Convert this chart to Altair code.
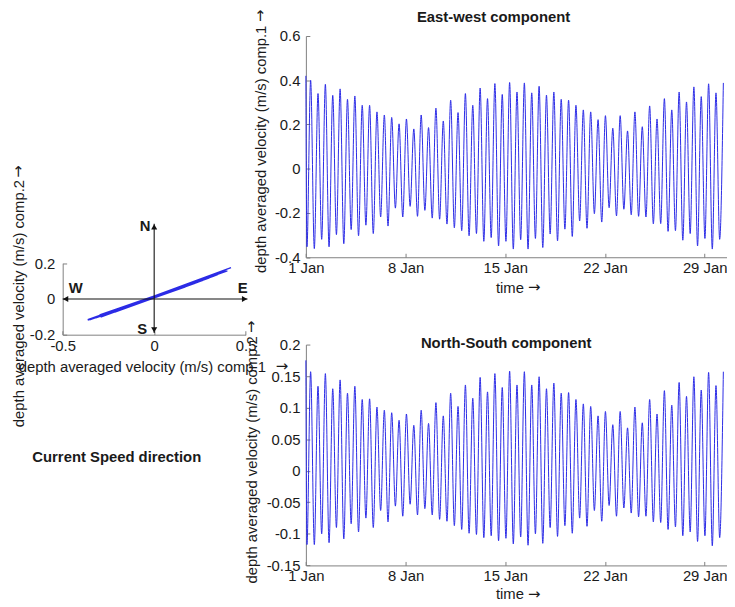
import altair as alt
import pandas as pd

# ---------------- data ----------------
TIDE_PERIOD_H = 12.42      # sampling of extremes (semi-diurnal)
FIRST_PEAK_H = 8.0         # hours after 1 Jan 00:00
ew_start = 0.42
ns_start = 0.175

ew_peaks = [0.40, 0.34, 0.382, 0.332, 0.361, 0.314, 0.329, 0.287, 0.287, 0.257,
            0.243, 0.232, 0.203, 0.225, 0.18, 0.243, 0.186, 0.274, 0.216, 0.31,
            0.254, 0.34, 0.287, 0.365, 0.317, 0.385, 0.336, 0.39, 0.347, 0.388,
            0.343, 0.373, 0.333, 0.347, 0.314, 0.31, 0.287, 0.266, 0.257, 0.222,
            0.24, 0.183, 0.24, 0.171, 0.257, 0.19, 0.284, 0.225, 0.317, 0.266,
            0.347, 0.302, 0.37, 0.326, 0.384, 0.343, 0.388]
ew_troughs = [-0.353, -0.361, -0.319, -0.353, -0.298, -0.339, -0.275, -0.303, -0.255, -0.293,
              -0.218, -0.259, -0.178, -0.218, -0.17, -0.215, -0.188, -0.223, -0.228, -0.25,
              -0.267, -0.28, -0.303, -0.293, -0.328, -0.311, -0.349, -0.328, -0.363, -0.321,
              -0.363, -0.315, -0.356, -0.295, -0.326, -0.273, -0.306, -0.236, -0.269, -0.203,
              -0.241, -0.176, -0.213, -0.183, -0.208, -0.215, -0.218, -0.249, -0.248, -0.283,
              -0.28, -0.323, -0.293, -0.349, -0.315, -0.363, -0.319]
ns_peaks = [0.157, 0.134, 0.154, 0.13, 0.144, 0.123, 0.134, 0.113, 0.114, 0.101,
            0.096, 0.092, 0.08, 0.09, 0.072, 0.096, 0.075, 0.108, 0.087, 0.123,
            0.102, 0.136, 0.115, 0.148, 0.125, 0.154, 0.132, 0.158, 0.136, 0.157,
            0.136, 0.149, 0.13, 0.139, 0.123, 0.124, 0.113, 0.106, 0.102, 0.087,
            0.094, 0.073, 0.094, 0.068, 0.101, 0.076, 0.113, 0.09, 0.127, 0.104,
            0.14, 0.118, 0.149, 0.128, 0.156, 0.135, 0.157]
ns_troughs = [-0.117, -0.117, -0.1, -0.114, -0.09, -0.108, -0.084, -0.097, -0.075, -0.09,
              -0.063, -0.081, -0.056, -0.072, -0.053, -0.07, -0.06, -0.07, -0.077, -0.08,
              -0.087, -0.093, -0.099, -0.101, -0.106, -0.103, -0.111, -0.107, -0.116, -0.105,
              -0.118, -0.1, -0.115, -0.09, -0.104, -0.087, -0.099, -0.075, -0.088, -0.063,
              -0.08, -0.055, -0.072, -0.059, -0.067, -0.073, -0.072, -0.081, -0.082, -0.093,
              -0.089, -0.103, -0.097, -0.112, -0.103, -0.119, -0.106]

y_ticks_ew = [-0.4, -0.2, 0, 0.2, 0.4, 0.6]
y_ticks_ns = [-0.15, -0.1, -0.05, 0, 0.05, 0.1, 0.15, 0.2]
day_ticks = [0, 7, 14, 21, 28]
hodo_x_ticks = [-0.5, 0, 0.5]
hodo_y_ticks = [-0.2, 0, 0.2]

compass_lines = pd.DataFrame({"x": [-0.5, 0.0], "x2": [0.51, 0.0],
                              "y": [0.0, 0.42], "y2": [0.0, -0.19]})
compass_heads = pd.DataFrame({"x": [-0.484, 0.494, 0.0, 0.0],
                              "y": [0.0, 0.0, 0.403, -0.173],
                              "shape": ["triangle-left", "triangle-right",
                                        "triangle-up", "triangle-down"]})
compass_text = pd.DataFrame({"x": [-0.049, -0.065, -0.428, 0.484],
                             "y": [0.408, -0.167, 0.060, 0.062],
                             "t": ["N", "S", "W", "E"]})

rows = [dict(day=0.0, ew=ew_start, ns=ns_start, idx=0)]
for k in range(len(ew_peaks)):
    tp = FIRST_PEAK_H + k * TIDE_PERIOD_H
    rows.append(dict(day=(tp - TIDE_PERIOD_H / 2) / 24, ew=ew_troughs[k], ns=ns_troughs[k], idx=2 * k + 1))
    rows.append(dict(day=tp / 24, ew=ew_peaks[k], ns=ns_peaks[k], idx=2 * k + 2))
ts = pd.DataFrame(rows)

# ---------------- layout (pixels inside the canvas) ----------------
W, H = 727, 598
FONT = "Liberation Sans"
FS = 15
LINE_BLUE = "#2b2be6"
AX_GRAY = "#7f7f7f"
TXT = "#1a1a1a"
PX_PER_DAY = 14.4
TX0 = 301.2
DAY_END = (W - TX0) / PX_PER_DAY
TOP_Y0, TOP_Y1 = 248.7, 25.0
BOT_Y0, BOT_Y1 = 560.3, 337.0
HX0, HX1 = 55.3, 240.3
HY0, HY1 = 327.0, 254.7

NUM_EXPR = "datum.value < 0 ? '-' + format(-datum.value, '~g') : format(datum.value, '~g')"
DAY_EXPR = "format(datum.value + 1, 'd') + ' Jan'"
VEL1 = "depth averaged velocity (m/s) comp.1"
VEL2 = "depth averaged velocity (m/s) comp.2"


def sc(domain, rng):
    return alt.Scale(domain=domain, range=rng, nice=False, zero=False)


day_scale = lambda: sc([0, DAY_END], [TX0, W])
top_scale = lambda: sc([-0.4, 0.6], [TOP_Y0, TOP_Y1])
bot_scale = lambda: sc([-0.15, 0.2], [BOT_Y0, BOT_Y1])
hx_scale = lambda: sc([-0.5, 0.5], [HX0, HX1])
hy_scale = lambda: sc([-0.2, 0.2], [HY0, HY1])


def main_axis(orient, offset, values, expr, title, tx, ty, pad):
    return alt.Axis(orient=orient, offset=offset, values=values, labelExpr=expr,
                    ticks=False, labelPadding=pad, title=title, titleX=tx, titleY=ty,
                    titleAlign="center", titleBaseline="middle")


def tick_axis(orient, offset, values):
    return alt.Axis(orient=orient, offset=offset, values=values, labels=False,
                    domain=False, ticks=True, tickSize=4, title=None)


base_ts = alt.Chart(ts)

# ----- East-west panel -----
top_line = base_ts.mark_line(color=LINE_BLUE, strokeWidth=1, interpolate="monotone").encode(
    x=alt.X("day:Q", scale=day_scale(),
            axis=main_axis("bottom", -(H - TOP_Y0), day_ticks, DAY_EXPR, "time",
                           515 - 8, 287 - 256.7, 3.5)),
    y=alt.Y("ew:Q", scale=top_scale(),
            axis=main_axis("left", -TX0, y_ticks_ew, NUM_EXPR, VEL1, 263 - 309.2, 147 - 8, 6)),
)
top_ticks = base_ts.mark_line(opacity=0).encode(
    x=alt.X("day:Q", scale=day_scale(), axis=tick_axis("top", -TOP_Y0, day_ticks)),
    y=alt.Y("ew:Q", scale=top_scale(), axis=tick_axis("right", -(W - TX0), y_ticks_ew)),
)

# ----- North-South panel -----
bot_line = base_ts.mark_line(color=LINE_BLUE, strokeWidth=1, interpolate="monotone").encode(
    x=alt.X("day:Q", scale=day_scale(),
            axis=main_axis("bottom", -(H - BOT_Y0), day_ticks, DAY_EXPR, "time",
                           515 - 8, 597 - 568.3, 3.5)),
    y=alt.Y("ns:Q", scale=bot_scale(),
            axis=main_axis("left", -TX0, y_ticks_ns, NUM_EXPR, VEL2, 254 - 309.2, 461 - 8, 6)),
)
bot_ticks = base_ts.mark_line(opacity=0).encode(
    x=alt.X("day:Q", scale=day_scale(), axis=tick_axis("top", -BOT_Y0, day_ticks)),
    y=alt.Y("ns:Q", scale=bot_scale(), axis=tick_axis("right", -(W - TX0), y_ticks_ns)),
)

# ----- hodograph -----
hodo = base_ts.mark_line(color=LINE_BLUE, strokeWidth=1.4).encode(
    x=alt.X("ew:Q", scale=hx_scale(),
            axis=main_axis("bottom", -(H - HY0), hodo_x_ticks, NUM_EXPR, VEL1,
                           143.3 - 8, 367 - 335, 3.5)),
    y=alt.Y("ns:Q", scale=hy_scale(),
            axis=main_axis("left", -HX0, hodo_y_ticks, NUM_EXPR, VEL2, 18.3 - 63.3, 303 - 8, 8)),
    order="idx:Q",
)
hodo_ticks = base_ts.mark_line(opacity=0).encode(
    x=alt.X("ew:Q", scale=hx_scale(), axis=tick_axis("top", -HY0, hodo_x_ticks)),
    y=alt.Y("ns:Q", scale=hy_scale(), axis=tick_axis("right", -(W - HX0), hodo_y_ticks)),
)

c_lines = alt.Chart(compass_lines).mark_rule(color="#111111", strokeWidth=1.1).encode(
    x=alt.X("x:Q", scale=hx_scale(), axis=None), x2="x2:Q",
    y=alt.Y("y:Q", scale=hy_scale(), axis=None), y2="y2:Q",
)
c_heads = alt.Chart(compass_heads).mark_point(filled=True, color="#111111", size=38, opacity=1).encode(
    x=alt.X("x:Q", scale=hx_scale(), axis=None),
    y=alt.Y("y:Q", scale=hy_scale(), axis=None),
    shape=alt.Shape("shape:N", scale=None),
)
c_text = alt.Chart(compass_text).mark_text(font=FONT, fontSize=FS, fontWeight="bold",
                                           color=TXT, align="center", baseline="middle").encode(
    x=alt.X("x:Q", scale=hx_scale(), axis=None),
    y=alt.Y("y:Q", scale=hy_scale(), axis=None),
    text="t:N",
)


def label(txt, x, y, bold=True, font=FONT, angle=0):
    return alt.Chart(pd.DataFrame({"t": [txt]})).mark_text(
        font=font, fontSize=FS, fontWeight="bold" if bold else "normal", color=TXT,
        align="center", baseline="middle", angle=angle).encode(
        x=alt.value(x), y=alt.value(y), text="t:N")


t1 = label("East-west component", 499 - 8, 13.5 - 8)
t2 = label("North-South component", 511.7 - 8, 343 - 8)
t3 = label("Current Speed direction", 118 - 8, 459 - 8)

# arrows that end the axis titles (drawn with a font that has a full-size arrow)
ARROW_FONT = "DejaVu Sans"
a_top_y = label("→", 263 - 8, 12.5 - 8, bold=False, font=ARROW_FONT, angle=270)
a_bot_y = label("→", 254 - 8, 327 - 8, bold=False, font=ARROW_FONT, angle=270)
a_hodo_y = label("→", 18.3 - 8, 170 - 8, bold=False, font=ARROW_FONT, angle=270)
a_hodo_x = label("→", 285 - 8, 367 - 8, bold=False, font=ARROW_FONT)
a_top_x = label("→", 540 - 8, 287 - 8, bold=False, font=ARROW_FONT)
a_bot_x = label("→", 540 - 8, 597 - 8, bold=False, font=ARROW_FONT)

chart = alt.layer(
    top_line, top_ticks, bot_line, bot_ticks, hodo, hodo_ticks,
    c_lines, c_heads, c_text, t1, t2, t3,
    a_top_y, a_bot_y, a_hodo_y, a_hodo_x, a_top_x, a_bot_x,
).resolve_scale(
    x="independent", y="independent"
).properties(
    width=W, height=H, autosize="none", padding=0
).configure_view(
    stroke=None
).configure_axis(
    grid=False, labelFont=FONT, labelFontSize=FS, labelColor=TXT,
    titleFont=FONT, titleFontSize=FS, titleFontWeight="normal", titleColor=TXT,
    domainColor=AX_GRAY, tickColor=AX_GRAY, domainWidth=1,
    labelFlush=False, labelOverlap=False, labelBound=False,
)

chart.save("out.html", embed_options={"renderer": "svg", "actions": False})
